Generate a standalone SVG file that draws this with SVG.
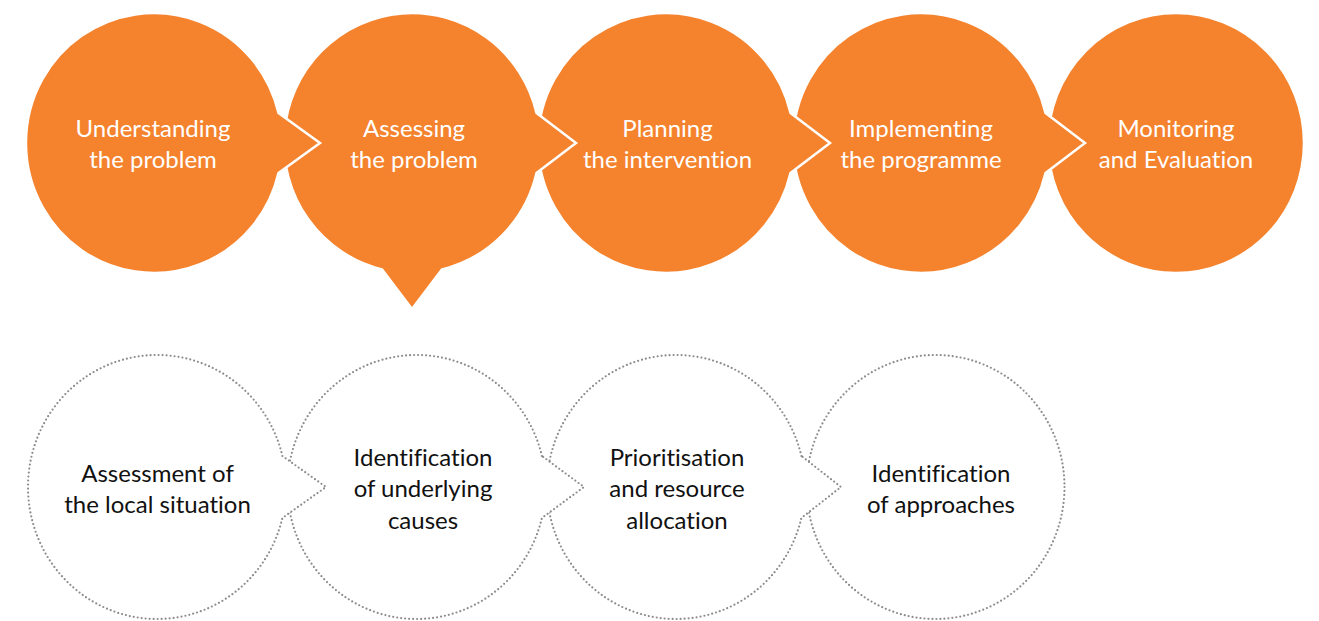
<svg xmlns="http://www.w3.org/2000/svg" width="1319" height="621" viewBox="0 0 1319 621">
<style>
.top{fill:#F5822C;stroke:#ffffff;stroke-width:2.5;stroke-linejoin:miter}
.bot{fill:#ffffff;stroke:#8c8c8c;stroke-width:2.2;stroke-dasharray:0 4;stroke-linecap:round}
.tw{font-family:Lato,"Liberation Sans",sans-serif;font-size:24px;fill:#ffffff;text-anchor:middle;font-variant-ligatures:none}
.tb{font-family:Lato,"Liberation Sans",sans-serif;font-size:24px;fill:#111111;text-anchor:middle;font-variant-ligatures:none}
</style>
<rect width="1319" height="621" fill="#ffffff"/>
<g id="connectors"></g>
<g id="step5">
<ellipse class="top" cx="1176" cy="143" rx="128" ry="130"/>
<text class="tw" x="1176" y="137">Monitoring</text>
<text class="tw" x="1176" y="168">and Evaluation</text>
</g>
<g id="step4">
<path class="top" d="M1045.5,113 A128 130 0 1 0 1045.5,173 L1085,143 Z"/>
<text class="tw" x="921" y="137">Implementing</text>
<text class="tw" x="921" y="168">the programme</text>
</g>
<g id="step3">
<path class="top" d="M790.5,113 A128 130 0 1 0 790.5,173 L830,143 Z"/>
<text class="tw" x="667.5" y="137">Planning</text>
<text class="tw" x="667.5" y="168">the intervention</text>
</g>
<g id="step2">
<path class="top" d="M536.5,113 A128 130 0 1 0 382,269.4 L412,309 L442,269.4 A128 130 0 0 0 536.5,173 L576,143 Z"/>
<text class="tw" x="414" y="137">Assessing</text>
<text class="tw" x="414" y="168">the problem</text>
</g>
<g id="step1">
<path class="top" d="M278.5,113 A128 130 0 1 0 278.5,173 L320,143 Z"/>
<text class="tw" x="153" y="137">Understanding</text>
<text class="tw" x="153" y="168">the problem</text>
</g>
<g id="sub4">
<ellipse class="bot" cx="935.5" cy="487" rx="129" ry="132"/>
<text class="tb" x="941" y="482">Identification</text>
<text class="tb" x="941" y="513">of approaches</text>
</g>
<g id="sub3">
<path class="bot" d="M801.4,456 A129 132 0 1 0 801.4,518 L841,487 Z"/>
<text class="tb" x="677" y="466">Prioritisation</text>
<text class="tb" x="677" y="497">and resource</text>
<text class="tb" x="677" y="529">allocation</text>
</g>
<g id="sub2">
<path class="bot" d="M541.9,456 A129 132 0 1 0 541.9,518 L584,487 Z"/>
<text class="tb" x="423" y="466">Identification</text>
<text class="tb" x="423" y="497">of underlying</text>
<text class="tb" x="423" y="529">causes</text>
</g>
<g id="sub1">
<path class="bot" d="M282.4,456 A129 132 0 1 0 282.4,518 L326,487 Z"/>
<text class="tb" x="157.5" y="482">Assessment of</text>
<text class="tb" x="157.5" y="513">the local situation</text>
</g>
</svg>
